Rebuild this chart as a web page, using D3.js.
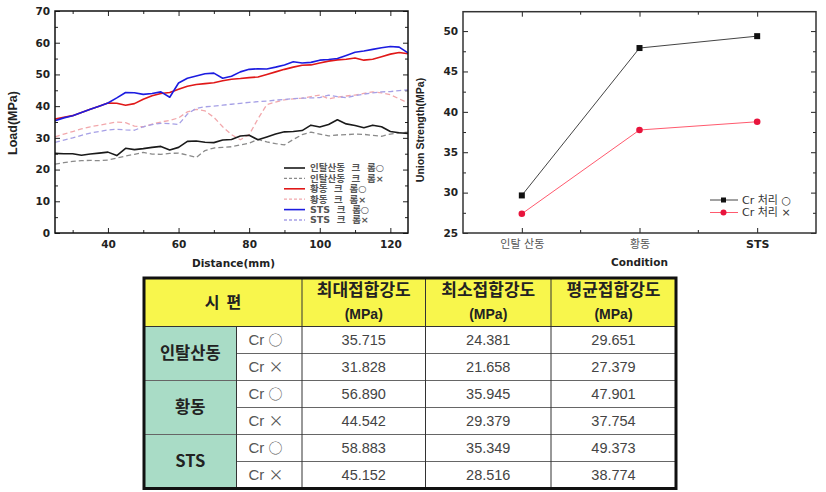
<!DOCTYPE html>
<html><head><meta charset="utf-8">
<script src="https://cdn.jsdelivr.net/npm/d3@7"></script>
<style>body{margin:0;background:#fff}svg{display:block}</style>
</head><body><svg id="c" width="826" height="492"></svg>
<script>
// ---------- data: left chart (load vs distance) ----------
const distance = [25,27.5,30,32.5,35,37.5,40,42.5,45,47.5,50,52.5,55,57.5,60,62.5,65,67.5,70,72.5,75,77.5,80,82.5,85,87.5,90,92.5,95,97.5,100,102.5,105,107.5,110,112.5,115,117.5,120,122.5,125];
const inCuCrO = [25.1,25.0,25.0,24.5,24.9,25.2,25.5,24.4,26.7,26.3,26.6,27.0,27.3,26.2,27.0,28.9,29.0,28.6,28.5,29.3,29.5,30.6,30.8,29.4,30.3,31.2,31.9,32.0,32.3,34.0,33.4,34.2,35.7,34.4,33.9,33.2,34.0,33.5,32.0,31.6,31.4];
const inCuCrX = [21.7,22.2,22.6,22.8,22.9,22.8,23.0,23.6,24.3,24.8,25.4,24.9,24.8,25.1,25.2,24.6,23.8,26.0,26.8,27.0,27.2,27.8,28.3,29.5,28.7,28.2,27.8,29.5,31.0,31.8,31.2,30.6,30.9,31.0,31.2,31.1,30.8,30.5,31.2,31.6,31.8];
const brassCrO = [35.9,36.5,37.0,38.0,39.0,40.0,41.0,40.9,40.3,40.8,42.2,43.3,44.0,44.3,45.3,46.3,46.8,47.1,47.4,48.0,48.5,48.7,49.0,49.2,50.0,50.8,51.6,52.3,52.9,53.0,53.6,54.2,54.6,54.8,55.2,54.5,54.8,55.6,56.4,56.9,56.5];
const brassCrX = [30.3,31.2,32.0,32.8,33.5,34.0,34.5,35.0,34.8,33.7,33.5,34.3,35.0,35.5,36.3,38.2,39.0,38.5,36.5,33.5,31.0,29.4,31.0,36.0,40.5,41.3,42.0,42.3,42.5,43.0,43.5,42.3,42.8,43.2,43.5,44.0,44.5,44.2,43.6,42.3,41.0];
const stsCrO = [35.4,36.3,37.0,38.0,39.0,40.0,41.0,42.6,44.3,44.2,43.7,44.0,44.5,42.8,47.3,48.8,49.5,50.2,50.4,48.8,49.4,50.8,51.6,51.8,51.7,52.3,53.0,54.0,53.6,53.8,54.5,54.7,55.0,56.0,57.0,57.4,57.9,58.4,58.8,58.6,56.8];
const stsCrX = [28.6,29.3,30.0,30.8,31.5,32.0,32.5,32.7,32.5,32.4,33.5,34.2,34.6,34.5,34.2,37.5,39.3,39.8,40.0,40.3,40.6,40.9,41.2,41.4,41.6,41.9,42.1,42.4,42.5,42.6,42.7,43.5,43.0,42.7,43.3,43.8,44.2,44.5,44.6,44.9,45.15];
const loadTicks = [0,10,20,30,40,50,60,70];
const distTicks = [40,60,80,100,120];
const leftLegend = ["인탈산동  크  롬○","인탈산동  크  롬×","황동  크  롬○","황동  크  롬×","STS  크  롬○","STS  크  롬×"];

// ---------- data: right chart ----------
const conditions = ["인탈 산동","황동","STS"];
const avgCrO = [29.651,47.901,49.373];
const avgCrX = [27.379,37.754,38.774];
const strengthTicks = [25,30,35,40,45,50];
const rightLegend = ["Cr 처리 ○","Cr 처리 ×"];

// ---------- data: table ----------
const tableCorner = "시  편";
const headerLabels = ["최대접합강도","최소접합강도","평균접합강도"];
const unitLabel = "(MPa)";
const groups = ["인탈산동","황동","STS"];
const crPrefix = "Cr ";
const crMarks = ["○","×"];
const maxStrength = [35.715,31.828,56.890,44.542,58.883,45.152];
const minStrength = [24.381,21.658,35.945,29.379,35.349,28.516];
const avgStrength = [29.651,27.379,47.901,37.754,49.373,38.774];

// ---------- styles ----------
const seriesStyle = [
  {c:"#1a1a1a", w:1.6, d:null},
  {c:"#8a8a8a", w:1.3, d:"5,3"},
  {c:"#e01818", w:1.6, d:null},
  {c:"#f2a8ac", w:1.3, d:"5,3"},
  {c:"#1c1ce0", w:1.6, d:null},
  {c:"#a6a0e6", w:1.3, d:"5,3"}
];
const series = [inCuCrO,inCuCrX,brassCrO,brassCrX,stsCrO,stsCrX];

const svg = d3.select("#c");
svg.append("rect").attr("width",826).attr("height",492).attr("fill","#fff");
const HFONT = "'DejaVu Sans','Noto Sans CJK KR',sans-serif";

function styleAxis(g, size){
  g.select(".domain").remove();
  g.selectAll("line").attr("stroke","#222").attr("stroke-width",1);
  g.selectAll("text").attr("font-family",HFONT).attr("font-weight","bold").attr("font-size",size||10.5).attr("fill","#222");
}

// ===== LEFT CHART =====
const L = {l:55,r:408,t:11,b:233};
const xL = d3.scaleLinear().domain([25,125]).range([L.l,L.r]);
const yL = d3.scaleLinear().domain([0,70]).range([L.b,L.t]);
const gl = svg.append("g");
const minorDist = [30,50,70,90,110];
const minorLoad = [5,15,25,35,45,55,65];
gl.append("g").attr("transform",`translate(0,${L.b})`).call(d3.axisBottom(xL).tickValues(distTicks).tickSize(-5).tickPadding(8)).call(styleAxis);
gl.append("g").attr("transform",`translate(0,${L.b})`).call(d3.axisBottom(xL).tickValues(minorDist).tickSize(-3).tickFormat("")).call(styleAxis);
gl.append("g").attr("transform",`translate(0,${L.t})`).call(d3.axisTop(xL).tickValues(distTicks).tickSize(-5).tickFormat("")).call(styleAxis);
gl.append("g").attr("transform",`translate(0,${L.t})`).call(d3.axisTop(xL).tickValues(minorDist).tickSize(-3).tickFormat("")).call(styleAxis);
gl.append("g").attr("transform",`translate(${L.l},0)`).call(d3.axisLeft(yL).tickValues(loadTicks).tickSize(-5).tickPadding(5)).call(styleAxis);
gl.append("g").attr("transform",`translate(${L.l},0)`).call(d3.axisLeft(yL).tickValues(minorLoad).tickSize(-3).tickFormat("")).call(styleAxis);
gl.append("g").attr("transform",`translate(${L.r},0)`).call(d3.axisRight(yL).tickValues(loadTicks).tickSize(-5).tickFormat("")).call(styleAxis);
gl.append("g").attr("transform",`translate(${L.r},0)`).call(d3.axisRight(yL).tickValues(minorLoad).tickSize(-3).tickFormat("")).call(styleAxis);

const lineL = d3.line().x((d,i)=>xL(distance[i])).y(d=>yL(d));
const drawOrder = [1,3,5,0,2,4];
drawOrder.forEach(k=>{
  const s = seriesStyle[k];
  gl.append("path").datum(series[k]).attr("d",lineL).attr("fill","none")
    .attr("stroke",s.c).attr("stroke-width",s.w).attr("stroke-dasharray",s.d).attr("stroke-linejoin","round");
});
gl.append("rect").attr("x",L.l).attr("y",L.t).attr("width",L.r-L.l).attr("height",L.b-L.t)
  .attr("fill","none").attr("stroke","#111").attr("stroke-width",1.5);

// legend
const lgY = d3.scalePoint().domain(d3.range(6)).range([168,220]);
leftLegend.forEach((t,i)=>{
  const s = seriesStyle[i];
  gl.append("line").attr("x1",284).attr("x2",305).attr("y1",lgY(i)).attr("y2",lgY(i))
    .attr("stroke",s.c).attr("stroke-width",s.w).attr("stroke-dasharray",s.d?"3,2":null);
  gl.append("text").attr("x",310).attr("y",lgY(i)).attr("dy","0.35em").text(t)
    .style("white-space","pre")
    .attr("font-family",HFONT).attr("font-weight","bold").attr("font-size",9.5).attr("fill","#555");
});
gl.append("text").attr("x",(L.l+L.r)/2+2).attr("y",263).attr("dy","0.35em").attr("text-anchor","middle")
  .attr("font-family",HFONT).attr("font-weight","bold").attr("font-size",10.5).attr("fill","#222").text("Distance(mm)");
gl.append("text").attr("transform",`translate(13,123) rotate(-90)`).attr("dy","0.35em").attr("text-anchor","middle")
  .attr("font-family","'Liberation Sans',Arial,sans-serif").attr("font-weight","bold").attr("font-size",12.5).attr("fill","#222").text("Load(MPa)");

// ===== RIGHT CHART =====
const R = {l:463,r:816,t:11.7,b:233};
const xR = d3.scalePoint().domain(conditions).range([R.l,R.r]).padding(0.5);
const yR = d3.scaleLinear().domain([25,52.4]).range([R.b,R.t]);
const gr = svg.append("g");
const minorStr = [27.5,32.5,37.5,42.5,47.5];
const midX = [R.l+xR.step(), R.l+2*xR.step()];
gr.append("g").attr("transform",`translate(0,${R.b})`).call(d3.axisBottom(xR).tickSize(-5).tickPadding(7)).call(g=>styleAxis(g,11));
gr.selectAll(".minb").data(midX).enter().append("line").attr("x1",d=>d).attr("x2",d=>d).attr("y1",R.b).attr("y2",R.b-3).attr("stroke","#222");
gr.selectAll(".mint").data(midX).enter().append("line").attr("x1",d=>d).attr("x2",d=>d).attr("y1",R.t).attr("y2",R.t+3).attr("stroke","#222");
gr.append("g").attr("transform",`translate(0,${R.t})`).call(d3.axisTop(xR).tickSize(-5).tickFormat("")).call(styleAxis);
gr.append("g").attr("transform",`translate(${R.l},0)`).call(d3.axisLeft(yR).tickValues(strengthTicks).tickSize(-5).tickPadding(5)).call(styleAxis);
gr.append("g").attr("transform",`translate(${R.l},0)`).call(d3.axisLeft(yR).tickValues(minorStr).tickSize(-3).tickFormat("")).call(styleAxis);
gr.append("g").attr("transform",`translate(${R.r},0)`).call(d3.axisRight(yR).tickValues(strengthTicks).tickSize(-5).tickFormat("")).call(styleAxis);
gr.append("g").attr("transform",`translate(${R.r},0)`).call(d3.axisRight(yR).tickValues(minorStr).tickSize(-3).tickFormat("")).call(styleAxis);
gr.selectAll("g text").filter(function(){return this.textContent!=="STS" && conditions.includes(this.textContent);})
  .attr("font-weight","normal").attr("fill","#555");

const lineR = d3.line().x((d,i)=>xR(conditions[i])).y(d=>yR(d));
gr.append("path").datum(avgCrX).attr("d",lineR).attr("fill","none").attr("stroke","#ff5a6e").attr("stroke-width",1);
gr.append("path").datum(avgCrO).attr("d",lineR).attr("fill","none").attr("stroke","#444").attr("stroke-width",1);
gr.selectAll(".sq").data(avgCrO).enter().append("rect")
  .attr("x",(d,i)=>xR(conditions[i])-3).attr("y",d=>yR(d)-3).attr("width",6).attr("height",6).attr("fill","#111");
gr.selectAll(".ci").data(avgCrX).enter().append("circle")
  .attr("cx",(d,i)=>xR(conditions[i])).attr("cy",d=>yR(d)).attr("r",3.3).attr("fill","#e8143c");
gr.append("rect").attr("x",R.l).attr("y",R.t).attr("width",R.r-R.l).attr("height",R.b-R.t)
  .attr("fill","none").attr("stroke","#333").attr("stroke-width",1.5);
const rlY = [200,212.5];
rightLegend.forEach((t,i)=>{
  gr.append("line").attr("x1",710).attr("x2",738).attr("y1",rlY[i]).attr("y2",rlY[i]).attr("stroke",i?"#ff5a6e":"#444").attr("stroke-width",1);
  if(i===0) gr.append("rect").attr("x",721).attr("y",rlY[i]-2.5).attr("width",5).attr("height",5).attr("fill","#111");
  else gr.append("circle").attr("cx",723.5).attr("cy",rlY[i]).attr("r",3).attr("fill","#e8143c");
  gr.append("text").attr("x",742).attr("y",rlY[i]).attr("dy","0.35em").text(t)
    .attr("font-family",HFONT).attr("font-size",11).attr("fill","#333");
});
gr.append("text").attr("x",(R.l+R.r)/2).attr("y",262).attr("dy","0.35em").attr("text-anchor","middle")
  .attr("font-family",HFONT).attr("font-weight","bold").attr("font-size",10.5).attr("fill","#222").text("Condition");
gr.append("text").attr("transform",`translate(420,130) rotate(-90)`).attr("dy","0.35em").attr("text-anchor","middle")
  .attr("font-family","'Liberation Sans',Arial,sans-serif").attr("font-weight","bold").attr("font-size",10.5).attr("fill","#222").text("Union Strength(MPa)");

// ===== TABLE =====
const colEdge = d3.scaleOrdinal().domain([0,1,2,3,4,5]).range([144,236.5,302,425.5,551,676]);
const rowBand = d3.scaleBand().domain(d3.range(6)).range([326.5,488.5]);
const T = {t:278, hb:326.5, b:488.5, l:144, r:676};
const gt = svg.append("g");
const KFONT = "'Noto Sans CJK KR','DejaVu Sans',sans-serif";
const NFONT = "'Liberation Sans',Arial,sans-serif";
const YEL = "#f8f64c", GRN = "#a9dcc6";
gt.append("rect").attr("x",T.l).attr("y",T.t).attr("width",T.r-T.l).attr("height",T.hb-T.t).attr("fill",YEL);
gt.append("rect").attr("x",T.l).attr("y",T.hb).attr("width",colEdge(1)-T.l).attr("height",T.b-T.hb).attr("fill",GRN);
gt.append("rect").attr("x",colEdge(1)).attr("y",T.hb).attr("width",T.r-colEdge(1)).attr("height",T.b-T.hb).attr("fill","#fff");
d3.range(1,6).forEach(r=>{
  const y = rowBand(r);
  gt.append("line").attr("x1",(r%2===0)?T.l:colEdge(1)).attr("x2",T.r).attr("y1",y).attr("y2",y).attr("stroke","#666").attr("stroke-width",1);
});
gt.append("line").attr("x1",T.l).attr("x2",T.r).attr("y1",T.hb).attr("y2",T.hb).attr("stroke","#333").attr("stroke-width",1);
[1].forEach(c=>gt.append("line").attr("x1",colEdge(c)).attr("x2",colEdge(c)).attr("y1",T.hb).attr("y2",T.b).attr("stroke","#333"));
[2,3,4].forEach(c=>gt.append("line").attr("x1",colEdge(c)).attr("x2",colEdge(c)).attr("y1",T.t).attr("y2",T.b).attr("stroke","#333"));
gt.append("rect").attr("x",T.l).attr("y",T.t).attr("width",T.r-T.l).attr("height",T.b-T.t)
  .attr("fill","none").attr("stroke","#111").attr("stroke-width",3);
gt.append("text").attr("x",(colEdge(0)+colEdge(2))/2).attr("y",(T.t+T.hb)/2).attr("dy","0.36em").attr("text-anchor","middle")
  .style("white-space","pre")
  .attr("font-family",KFONT).attr("font-weight","bold").attr("font-size",16).attr("fill","#222").text(tableCorner);
headerLabels.forEach((h,i)=>{
  const cx = (colEdge(i+2)+colEdge(i+3))/2;
  gt.append("text").attr("x",cx).attr("y",290).attr("dy","0.36em").attr("text-anchor","middle")
    .attr("font-family",KFONT).attr("font-weight","bold").attr("font-size",17).attr("fill","#222").text(h);
  gt.append("text").attr("x",cx).attr("y",314).attr("dy","0.36em").attr("text-anchor","middle")
    .attr("font-family",NFONT).attr("font-weight","bold").attr("font-size",14).attr("fill","#222").text(unitLabel);
});
groups.forEach((g,i)=>{
  gt.append("text").attr("x",(colEdge(0)+colEdge(1))/2).attr("y",rowBand(2*i+1)).attr("dy","0.36em").attr("text-anchor","middle")
    .attr("font-family",KFONT).attr("font-weight","bold").attr("font-size",16.5).attr("fill","#222").text(g);
});
const fmt = d3.format(".3f");
d3.range(6).forEach(r=>{
  const cy = rowBand(r)+rowBand.bandwidth()/2;
  const t = gt.append("text").attr("x",colEdge(1)+12).attr("y",cy).attr("dy","0.36em")
    .attr("font-family",NFONT).attr("font-size",15).attr("fill","#555");
  t.append("tspan").text(crPrefix);
  t.append("tspan").attr("font-family",KFONT).attr("font-size",r%2?15:14).text(crMarks[r%2]);
  [maxStrength,minStrength,avgStrength].forEach((arr,c)=>{
    gt.append("text").attr("x",(colEdge(c+2)+colEdge(c+3))/2).attr("y",cy).attr("dy","0.36em").attr("text-anchor","middle")
      .attr("font-family",NFONT).attr("font-size",14.5).attr("fill","#444").text(fmt(arr[r]));
  });
});
</script></body></html>
